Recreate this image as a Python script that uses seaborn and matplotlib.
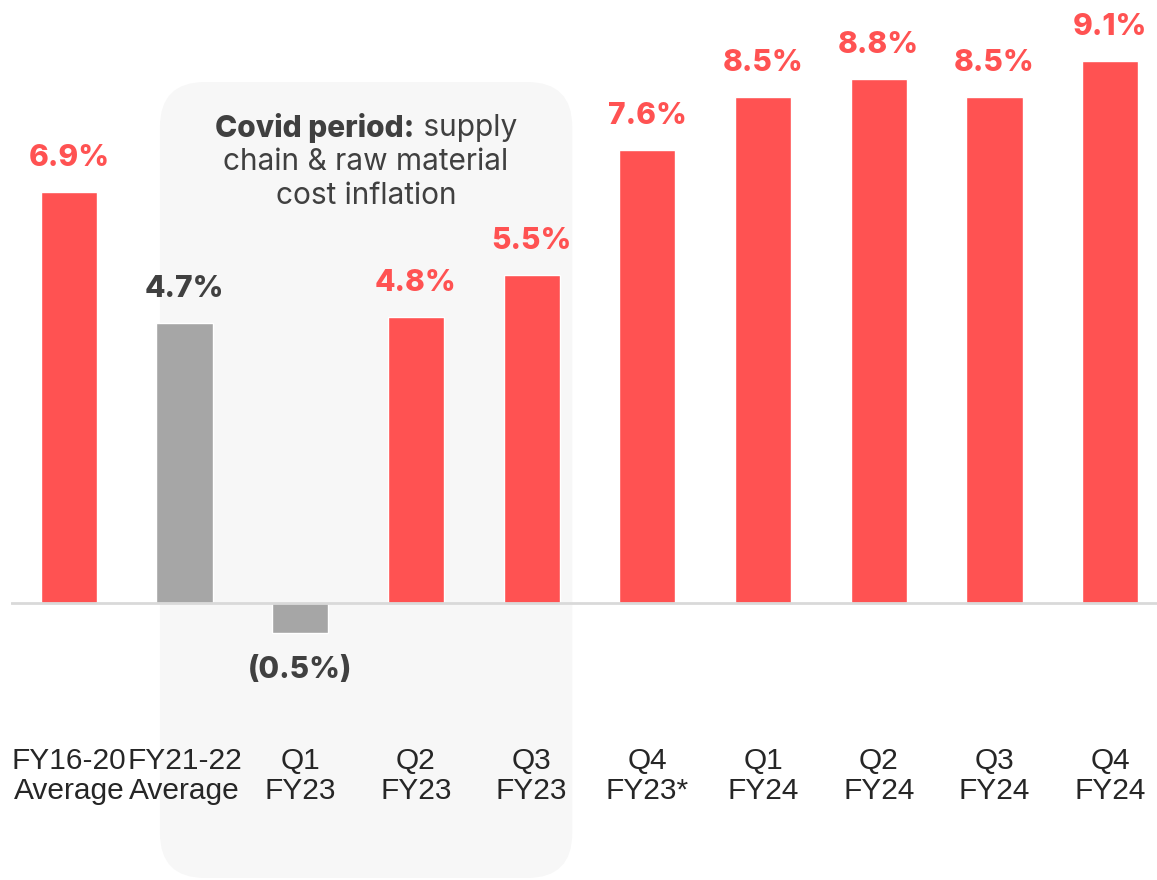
import matplotlib
matplotlib.use("Agg")
import matplotlib.pyplot as plt
from matplotlib.patches import FancyBboxPatch
import seaborn as sns
import pandas as pd

# Data
periods = ["FY16-20\nAverage", "FY21-22\nAverage", "Q1\nFY23", "Q2\nFY23", "Q3\nFY23",
           "Q4\nFY23*", "Q1\nFY24", "Q2\nFY24", "Q3\nFY24", "Q4\nFY24"]
growth = [6.9, 4.7, -0.5, 4.8, 5.5, 7.6, 8.5, 8.8, 8.5, 9.1]
labels = ["6.9%", "4.7%", "(0.5%)", "4.8%", "5.5%", "7.6%", "8.5%", "8.8%", "8.5%", "9.1%"]
is_covid = [False, True, True, False, False, False, False, False, False, False]

RED = "#FF5252"
GREY = "#A6A6A6"
DARK = "#404040"

sns.set_style("white")
plt.rcParams["font.family"] = ["Inter", "DejaVu Sans"]

W, H = 1157, 880
fig = plt.figure(figsize=(W / 100, H / 100), dpi=100)
ax = fig.add_axes([11 / W, 0, (W - 11) / W, 1])

df = pd.DataFrame({"period": periods, "growth": growth})
colors = [GREY if c else RED for c in is_covid]
sns.barplot(data=df, x="period", y="growth", hue="period", palette=colors,
            legend=False, width=0.485, saturation=1, ax=ax, zorder=3)

ymax = 603 / 59.56
ymin = -(H - 603) / 59.56
ax.set_ylim(ymin, ymax)
ax.set_xlim(-0.5, 9.5 - (1168 - W) / 115.6)

for s in ax.spines.values():
    s.set_visible(False)
ax.set_xticks([])
ax.set_yticks([])
ax.set_xlabel("")
ax.set_ylabel("")
ax.axhline(0, color="#D9D9D9", lw=2, zorder=4)

# Shaded covid period panel
px_x = 1 / 115.6
px_y = 1 / 59.56
x0 = (160 - 69) * px_x
x1 = (572 - 69) * px_x
y_top = (603 - 82) * px_y
y_bot = (603 - 878) * px_y
panel = FancyBboxPatch((x0, y_bot), x1 - x0, y_top - y_bot,
                       boxstyle=f"round,pad=0,rounding_size={45 * px_x}",
                       mutation_aspect=px_y / px_x,
                       facecolor="#F7F7F7", edgecolor="none", zorder=0)
ax.add_patch(panel)

# Value labels
off = 34 * px_y
for i, (v, lab, c) in enumerate(zip(growth, labels, is_covid)):
    col = DARK if c else RED
    y = v + off if v >= 0 else v - 37 * px_y
    ax.text(i, y, lab, ha="center", va="center", fontsize=21.5,
            fontweight=800, color=col, zorder=5)

# Category labels
for i, p in enumerate(periods):
    ax.text(i, -173 * px_y, p, ha="center", va="center", fontsize=21.5,
            family=["Liberation Sans", "DejaVu Sans"], color="#262626",
            linespacing=1.12, zorder=5)

# Panel annotation
cx = (366 - 69) * px_x
fs = 21.5
renderer = fig.canvas.get_renderer()
b = ax.text(0, 0, "Covid period:", fontsize=fs, fontweight=800, color=DARK)
r = ax.text(0, 0, " supply", fontsize=fs, color=DARK)
wb = b.get_window_extent(renderer).width
wr = r.get_window_extent(renderer).width
start = cx - (wb + wr) / 2 * px_x
y1 = (603 - 128) * px_y
b.set_position((start, y1)); b.set_va("center"); b.set_ha("left")
r.set_position((start + wb * px_x, y1)); r.set_va("center"); r.set_ha("left")
ax.text(cx, (603 - 162) * px_y, "chain & raw material", fontsize=fs, color=DARK,
        ha="center", va="center")
ax.text(cx, (603 - 196) * px_y, "cost inflation", fontsize=fs, color=DARK,
        ha="center", va="center")

fig.savefig("out.png", dpi=100)
